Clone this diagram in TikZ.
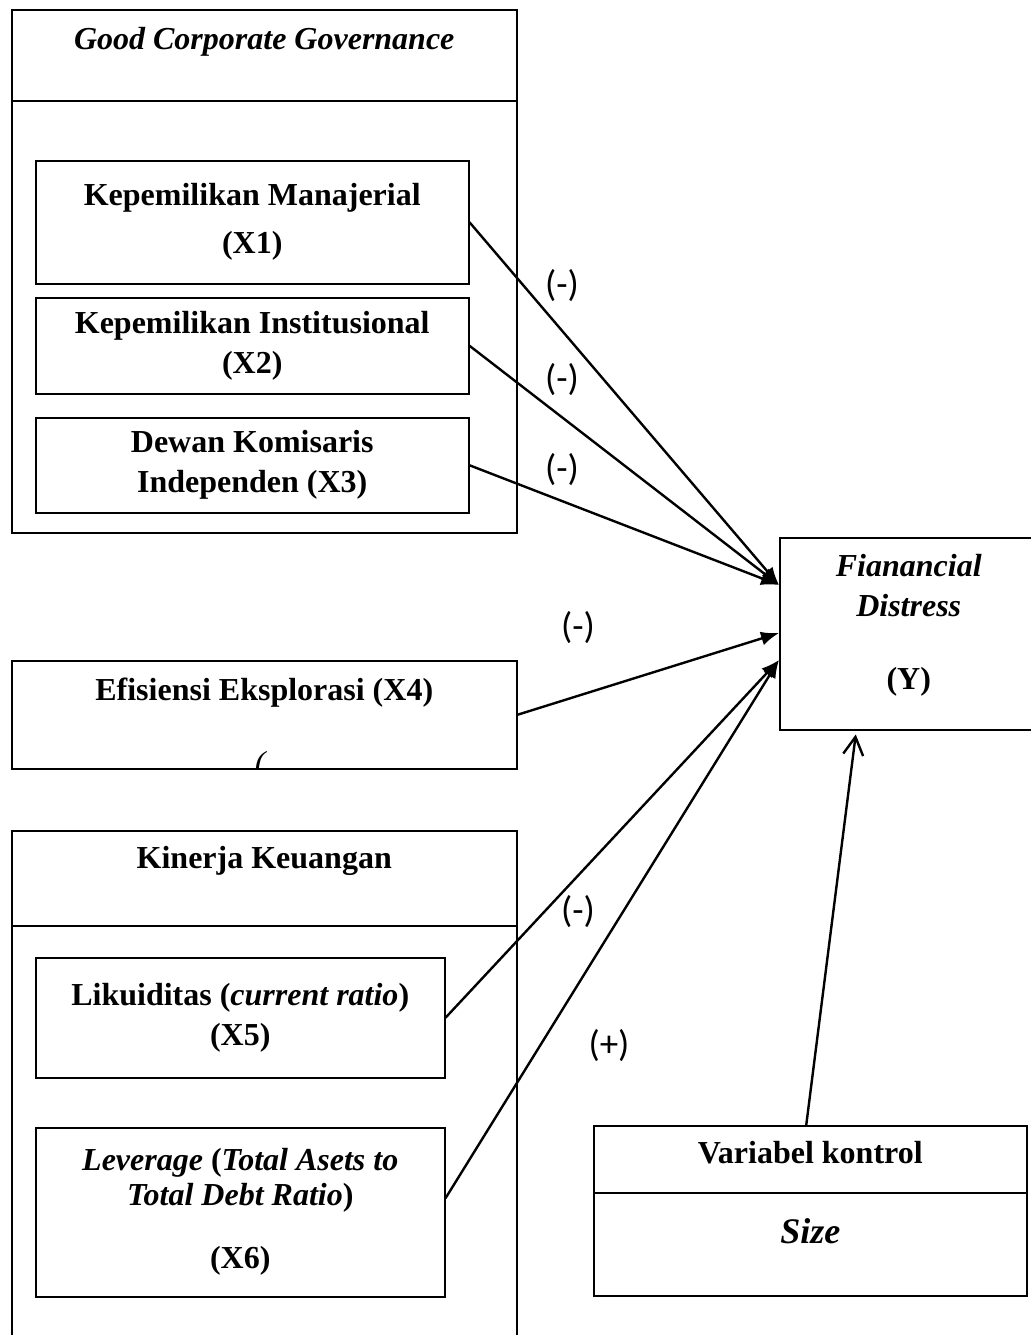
\documentclass[tikz,border=0pt]{standalone}
\usepackage{fontspec}
\setmainfont{Liberation Serif}
\newfontfamily\signfont{Carlito}
\usetikzlibrary{arrows.meta}

\begin{document}
\begin{tikzpicture}[x=0.5pt, y=-0.5pt, >={Latex[length=9pt,width=7pt]},
		box/.style={draw, line width=0.75pt, inner sep=0pt, align=center, anchor=north west,
			font=\fontsize{16}{20}\selectfont\bfseries},
		txt/.style={inner sep=0pt, align=center, font=\fontsize{16}{20}\selectfont\bfseries},
		sign/.style={inner sep=0pt, font=\fontsize{18.5}{22}\selectfont\signfont},
		link/.style={->, line width=1.2pt}]
		
		\useasboundingbox (0,0) rectangle (1030,1335);
		
		% good corporate governance group
		\node[box, minimum width=252.5pt, minimum height=261.5pt] (gcg) at (11,9) {};
		\node[box, minimum width=252.5pt, minimum height=45.5pt] (gcghead) at (11,9) {};
		\node[txt] (gcgtitle) at ([yshift=-16.5pt]gcghead.north) {\textit{Good Corporate Governance}};
		
		\node[box, minimum width=216.5pt, minimum height=61.5pt] (x1) at (35,160)
			{Kepemilikan Manajerial\\[4pt](X1)};
		\node[box, minimum width=216.5pt, minimum height=48pt] (x2) at (35,297)
			{Kepemilikan Institusional\\(X2)};
		\node[box, minimum width=216.5pt, minimum height=47.5pt] (x3) at (35,417)
			{Dewan Komisaris\\Independen (X3)};
		
		% efisiensi eksplorasi
		\node[box, minimum width=252.5pt, minimum height=54pt] (x4) at (11,660) {};
		\node[txt] (x4text) at ([yshift=-16.5pt]x4.north) {Efisiensi Eksplorasi (X4)};
		\begin{scope}
			\clip (x4.north west) rectangle (x4.south east);
			\node[txt, font=\fontsize{16}{20}\selectfont\itshape] (x4paren) at ([xshift=-2pt,yshift=2pt]x4.south) {(};
		\end{scope}
		
		% kinerja keuangan group
		\node[box, minimum width=252.5pt, minimum height=257.5pt] (kk) at (11,830) {};
		\node[box, minimum width=252.5pt, minimum height=47.5pt] (kkhead) at (11,830) {};
		\node[txt] (kktitle) at ([yshift=-15.5pt]kkhead.north) {Kinerja Keuangan};
		
		\node[box, minimum width=204.5pt, minimum height=60pt] (x5) at (35,957)
			{Likuiditas (\textit{current ratio})\\(X5)};
		\node[box, minimum width=204.5pt, minimum height=84.5pt] (x6) at (35,1127)
			{\textit{Leverage} (\textit{Total Asets to}\\[-2.5pt]\textit{Total Debt Ratio})\\[11.5pt](X6)};
		
		% dependent variable
		\node[box, minimum width=129pt, minimum height=96pt] (fd) at (779,537) {};
		\node[txt] (fdtext) at ([yshift=-44pt]fd.north)
			{\textit{Fianancial}\\\textit{Distress}\\[16.5pt](Y)};
		
		% control variable
		\node[box, minimum width=216.5pt, minimum height=85pt] (ctrl) at (593,1125) {};
		\node[box, minimum width=216.5pt, minimum height=33.5pt] (ctrlhead) at (593,1125) {};
		\node[txt] (ctrltitle) at ([yshift=-14pt]ctrlhead.north) {Variabel kontrol};
		\node[txt, font=\fontsize{18}{22}\selectfont\bfseries\itshape] (size) at ([yshift=-19pt]ctrlhead.south) {Size};
		
		% arrows into Y
		\draw[link] (x1.east) -- ([yshift=-24pt]fd.north west);
		\draw[link] (x2.east) -- ([yshift=-24pt]fd.north west);
		\draw[link] (x3.east) -- ([yshift=-24pt]fd.north west);
		\draw[link] (x4.east) -- ([yshift=-48pt]fd.north west);
		\draw[link] (x5.east) -- ([yshift=-61.5pt]fd.north west);
		\draw[link] ([yshift=7pt]x6.east) -- ([yshift=-61.5pt]fd.north west);
		\draw[line width=1.2pt, -{Straight Barb[length=9pt,width=10pt]}] ([xshift=-2pt]ctrl.north) -- ([xshift=-26.5pt,yshift=-2pt]fd.south);
		
		% signs
		\node[sign] (s1) at (562,286) {(-)};
		\node[sign] (s2) at (562,380) {(-)};
		\node[sign] (s3) at (562,470) {(-)};
		\node[sign] (s4) at (578,628) {(-)};
		\node[sign] (s5) at (578,912) {(-)};
		\node[sign] (s6) at (609,1046) {(+)};
		
	\end{tikzpicture}
\end{document}
